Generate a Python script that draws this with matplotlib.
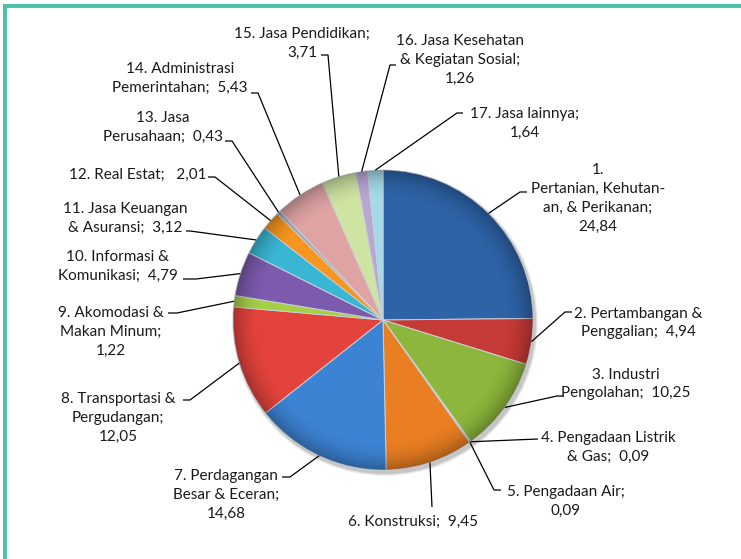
import numpy as np
import matplotlib
matplotlib.use('Agg')
import matplotlib.pyplot as plt
from matplotlib.patches import Circle

plt.rcParams['font.family'] = ['Lato', 'DejaVu Sans']

# data
sectors = ['1.\nPertanian, Kehutan-\nan, & Perikanan;',
           '2. Pertambangan &\nPenggalian;',
           '3. Industri\nPengolahan;',
           '4. Pengadaan Listrik\n& Gas;',
           '5. Pengadaan Air;',
           '6. Konstruksi;',
           '7. Perdagangan\nBesar & Eceran;',
           '8. Transportasi &\nPergudangan;',
           '9. Akomodasi &\nMakan Minum;',
           '10. Informasi &\nKomunikasi;',
           '11. Jasa Keuangan\n& Asuransi;',
           '12. Real Estat;',
           '13. Jasa\nPerusahaan;',
           '14. Administrasi\nPemerintahan;',
           '15. Jasa Pendidikan;',
           '16. Jasa Kesehatan\n& Kegiatan Sosial;',
           '17. Jasa lainnya;']
shares = [24.84, 4.94, 10.25, 0.09, 0.09, 9.45, 14.68, 12.05, 1.22,
          4.79, 3.12, 2.01, 0.43, 5.43, 3.71, 1.26, 1.64]
joiners = ['\n', '  ', '  ', '  ', '\n', '  ', '\n', '\n', '\n',
           '  ', '  ', '   ', '  ', '  ', '\n', '\n', '\n']
colors = ['#2E63A7', '#C63A37', '#8DB63C', '#7E5FA6', '#3DAFCB', '#E97E22',
          '#3D83D3', '#E4433D', '#A5CF45', '#7C5AAE', '#39B6D4', '#F6951F',
          '#9AA8BE', '#DFA3A4', '#CFE3A3', '#B7A7D2', '#A3DAE8']

# layout in pixels (x from left, y from top)
W, H = 741, 559
cx, cy, R = 383, 320, 150
label_pos = [(598, 198), (638, 323), (626, 384), (608, 447), (566, 501),
             (413, 522), (226, 495), (118, 418), (111, 332), (118, 266),
             (125, 218), (138, 175), (163, 127), (180, 78), (302, 43),
             (460, 60), (525, 123)]
elbows = [(520, 192), (565, 312), (557, 396), (538, 439), (494, 490),
          (432, 507), (290, 477), (190, 400), (177, 313), (196, 279),
          (190, 231), (215, 177), (232, 141), (258, 93), (328, 55),
          (390, 65), (457, 113)]
hooks = [(527, 192), (572, 312), (563, 396), (538, 439), (501, 490),
         (432, 507), (282, 477), (183, 400), (168, 313), (183, 279),
         (186, 231), (208, 177), (225, 141), (251, 93), (321, 55),
         (396, 65), (463, 113)]


def Y(py):
    return H - py


fig = plt.figure(figsize=(W / 100, H / 100), dpi=100)
ax = fig.add_axes([0, 0, 1, 1])

# soft shadow behind the pie
for k, a in enumerate([0.10, 0.15, 0.25]):
    ax.add_patch(Circle((cx + 2, Y(cy) - 3), R + 3 - k, color='#7a7a7a',
                        alpha=a, lw=0, zorder=0))

wedges, _ = ax.pie(shares, colors=colors, startangle=90, counterclock=False,
                   center=(cx, Y(cy)), radius=R,
                   wedgeprops=dict(edgecolor='#c9d0d8', linewidth=0.7))
for w in wedges:
    w.set_zorder(1)

# bevel-like shading: darker towards the rim
n = 400
gx, gy = np.meshgrid(np.linspace(-1, 1, n), np.linspace(-1, 1, n))
rr = np.sqrt(gx ** 2 + gy ** 2)
shade = np.zeros((n, n, 4))
shade[..., 3] = np.clip((rr - 0.80) / 0.20, 0, 1) ** 2 * 0.28
im = ax.imshow(shade, extent=(cx - R, cx + R, Y(cy) - R, Y(cy) + R),
               origin='lower', zorder=2, interpolation='bilinear')
im.set_clip_path(Circle((cx, Y(cy)), R, transform=ax.transData))

ax.set_xlim(0, W)
ax.set_ylim(0, H)
ax.set_aspect('equal')
ax.axis('off')

for i, w in enumerate(wedges):
    mid = np.deg2rad((w.theta1 + w.theta2) / 2)
    ax0 = cx + R * np.cos(mid)
    ay0 = Y(cy) + R * np.sin(mid)
    ex, ey = elbows[i]
    hx, hy = hooks[i]
    ax.plot([ax0, ex, hx], [ay0, Y(ey), Y(hy)], color='black', lw=0.9,
            zorder=3, solid_capstyle='butt')
    txt = sectors[i] + joiners[i] + f'{shares[i]:.2f}'.replace('.', ',')
    lx, ly = label_pos[i]
    ax.text(lx, Y(ly), txt, ha='center', va='center', fontsize=11,
            color='#1a1a1a', linespacing=1.45, zorder=4)

# frame
teal = '#47C2A8'
ax.plot([3, W], [Y(6), Y(6)], color=teal, lw=2.8, solid_capstyle='butt', zorder=5)
ax.plot([5, 5], [Y(6), 0], color=teal, lw=2.8, solid_capstyle='butt', zorder=5)

fig.savefig('out.png', dpi=100)
